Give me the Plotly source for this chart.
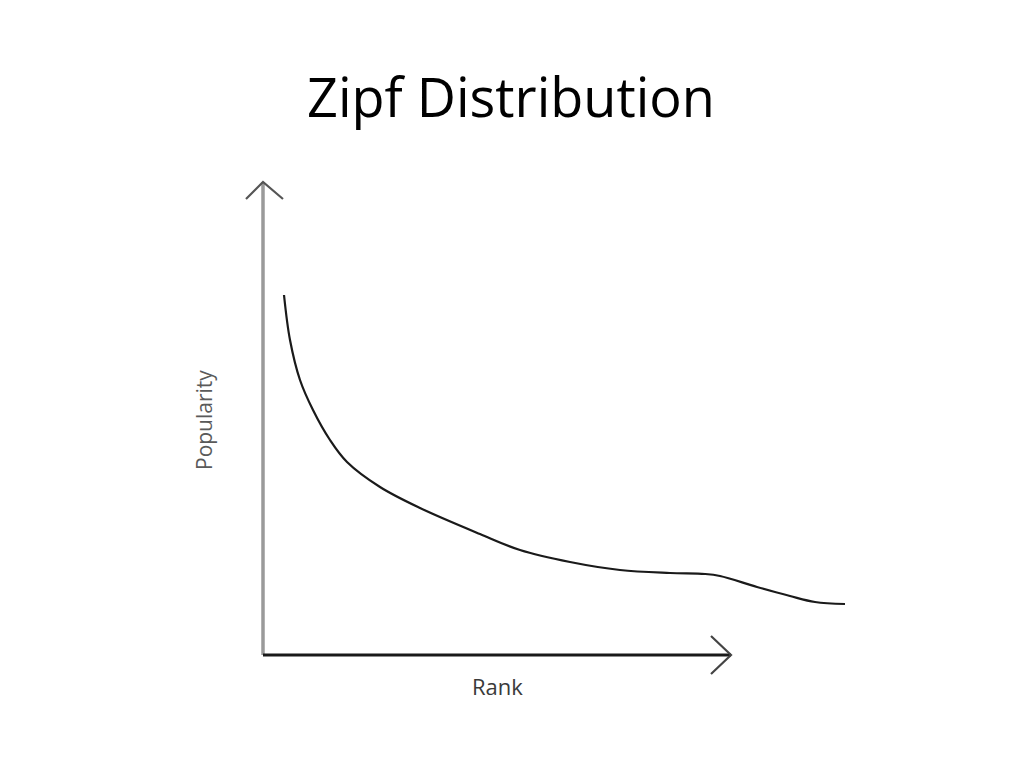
import plotly.graph_objects as go

# Curve values (rank vs popularity, in chart units)
rank = [21, 27, 37, 50, 67, 84, 117, 157, 217, 257, 307, 357, 407, 442, 457, 494, 527, 552, 582]
popularity = [360, 315, 275, 245, 215, 193, 168, 147, 121, 105, 93, 85, 82, 81, 79, 68, 59, 53, 51]

# Axis extents (chart units)
x_axis_len = 468
y_axis_len = 473

title_text = "Zipf Distribution"
x_label = "Rank"
y_label = "Popularity"

fig = go.Figure()

# Y axis (gray) with arrow head
fig.add_trace(go.Scatter(x=[0, 0], y=[0, y_axis_len], mode="lines",
                         line=dict(color="#9a9a9a", width=3.5), hoverinfo="skip"))
fig.add_trace(go.Scatter(x=[-17, 0, 20], y=[y_axis_len - 17, y_axis_len, y_axis_len - 17], mode="lines",
                         line=dict(color="#555555", width=2.2), hoverinfo="skip"))

# X axis (dark) with arrow head
fig.add_trace(go.Scatter(x=[0, x_axis_len], y=[0, 0], mode="lines",
                         line=dict(color="#1a1a1a", width=3), hoverinfo="skip"))
fig.add_trace(go.Scatter(x=[x_axis_len - 20, x_axis_len, x_axis_len - 20], y=[19, 0, -19], mode="lines",
                         line=dict(color="#444444", width=2.2), hoverinfo="skip"))

# Curve
fig.add_trace(go.Scatter(x=rank, y=popularity, mode="lines",
                         line=dict(color="#1a1a1a", width=2.2, shape="spline", smoothing=1.0),
                         hoverinfo="skip"))

fig.update_layout(
    width=1024, height=768,
    margin=dict(l=0, r=0, t=0, b=0),
    paper_bgcolor="white", plot_bgcolor="white",
    showlegend=False,
    xaxis=dict(range=[-263, 761], visible=False, fixedrange=True),
    yaxis=dict(range=[-113, 655], visible=False, fixedrange=True),
    annotations=[
        dict(text=title_text, x=511 / 1024, y=1 - 96 / 768, xref="paper", yref="paper",
             showarrow=False, font=dict(family="Open Sans", size=54, color="#000000"),
             xanchor="center", yanchor="middle"),
        dict(text=x_label, x=497 / 1024, y=1 - 686 / 768, xref="paper", yref="paper",
             showarrow=False, font=dict(family="Open Sans", size=22, color="#3a3a3a"),
             xanchor="center", yanchor="middle"),
        dict(text=y_label, x=204 / 1024, y=1 - 420 / 768, xref="paper", yref="paper",
             showarrow=False, textangle=-90, font=dict(family="Open Sans", size=21, color="#5a5a5a"),
             xanchor="center", yanchor="middle"),
    ],
)

fig.write_html("out.html", config={"displayModeBar": False},
               post_script="document.body.style.margin='0px';")
